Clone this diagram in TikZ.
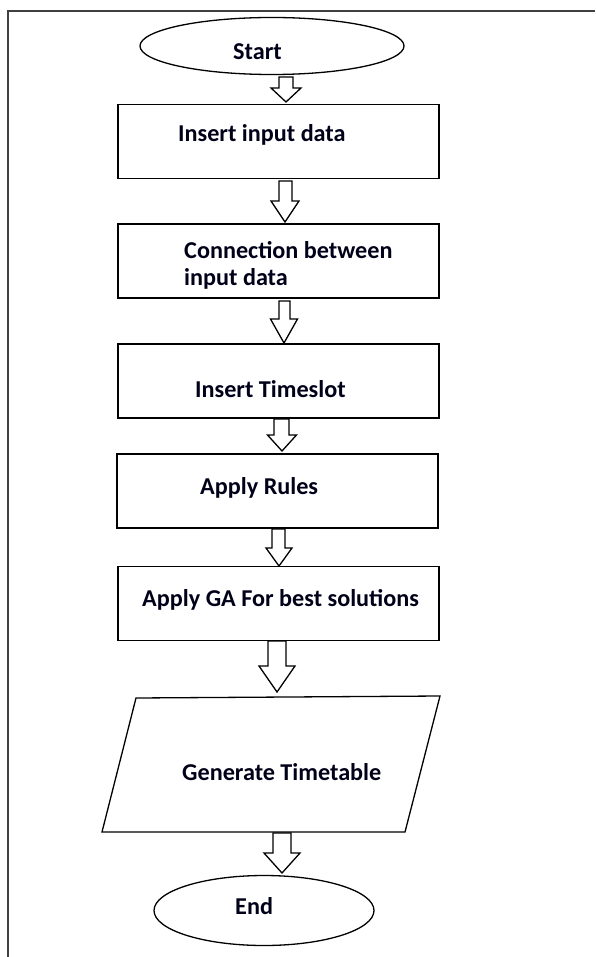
\documentclass[tikz,border=0pt]{standalone}
\usepackage{fontspec}
\setmainfont{Carlito}
\usetikzlibrary{shapes.geometric,calc}
\tikzset{
  shapeline/.style={draw=black, line width=1.3pt},
  procbox/.style={shapeline, rectangle, inner sep=0pt, minimum width=321pt, minimum height=74pt},
  termnode/.style={shapeline, ellipse, inner sep=0pt},
  lbl/.style={anchor=base west, inner sep=0pt, font=\fontsize{24.2}{29}\selectfont\bfseries, text=black!90!blue},
  arr/.style={draw=black, line width=1.3pt, fill=white, line join=miter},
  frame/.style={draw=black!75, line width=1.6pt}
}
\newcommand{\blockarr}[5]{%
  \draw[arr] let \p1=(#1), \p2=(#2) in
    (\x1-#3pt,\y1) -- (\x1+#3pt,\y1) -- (\x1+#3pt,\y2+#5pt) -- (\x2+#4pt,\y2+#5pt)
    -- (\x2,\y2) -- (\x2-#4pt,\y2+#5pt) -- (\x1-#3pt,\y2+#5pt) -- cycle;}
\begin{document}
\begin{tikzpicture}[x=1pt,y=-1pt]
\useasboundingbox (0,0) rectangle (595,957);
% frame
\coordinate (fbl) at (8,957);
\coordinate (ftl) at (8,11);
\coordinate (ftr) at (595,11);
\draw[frame] (fbl) -- (ftl) -- (ftr);

% shapes
\node[termnode, minimum width=264pt, minimum height=57pt] (start) at (272,46) {};
\node[procbox] (b1) at (278.5,141.5) {};
\node[procbox] (b2) at (278.5,261) {};
\node[procbox] (b3) at (278.5,381) {};
\node[procbox] (b4) at (277.5,491) {};
\node[procbox] (b5) at (278.5,603.5) {};
\coordinate (p1) at (136,698);
\coordinate (p2) at (440,696);
\coordinate (p3) at (405,832);
\coordinate (p4) at (102,832);
\draw[shapeline, line join=miter] (p1) -- (p2) -- (p3) -- (p4) -- cycle;
\node[termnode, minimum width=220pt, minimum height=70pt] (end) at (264,910.5) {};

% labels
\node[lbl] (tstart) at (233,60) {Start};
\node[lbl] (t1) at (178,142) {Insert input data};
\node[lbl] (t2a) at (184,259) {Connection between};
\node[lbl] (t2b) at (184,286) {input data};
\node[lbl] (t3) at (195,397) {Insert Timeslot};
\node[lbl] (t4) at (200,494) {Apply Rules};
\node[lbl] (t5) at (142,606) {Apply GA For best solutions};
\node[lbl] (t6) at (182,780) {Generate Timetable};
\node[lbl] (tend) at (235,914) {End};

% block arrows
\coordinate (a1s) at (286,77);   \coordinate (a1e) at (286,102);
\coordinate (a2s) at (285.5,181); \coordinate (a2e) at (285,222);
\coordinate (a3s) at (284.5,301); \coordinate (a3e) at (284,343);
\coordinate (a4s) at (281.5,419); \coordinate (a4e) at (282,451);
\coordinate (a5s) at (278.5,529); \coordinate (a5e) at (279,566);
\coordinate (a6s) at (277,641);  \coordinate (a6e) at (277,692);
\coordinate (a7s) at (282,833);  \coordinate (a7e) at (282,873);
\blockarr{a1s}{a1e}{7}{15}{14}
\blockarr{a2s}{a2e}{6.5}{14}{21}
\blockarr{a3s}{a3e}{5.5}{13.5}{24}
\blockarr{a4s}{a4e}{7.5}{14.5}{16}
\blockarr{a5s}{a5e}{6.5}{13}{18}
\blockarr{a6s}{a6e}{9}{18}{26}
\blockarr{a7s}{a7e}{9}{18}{20}
\end{tikzpicture}
\end{document}
